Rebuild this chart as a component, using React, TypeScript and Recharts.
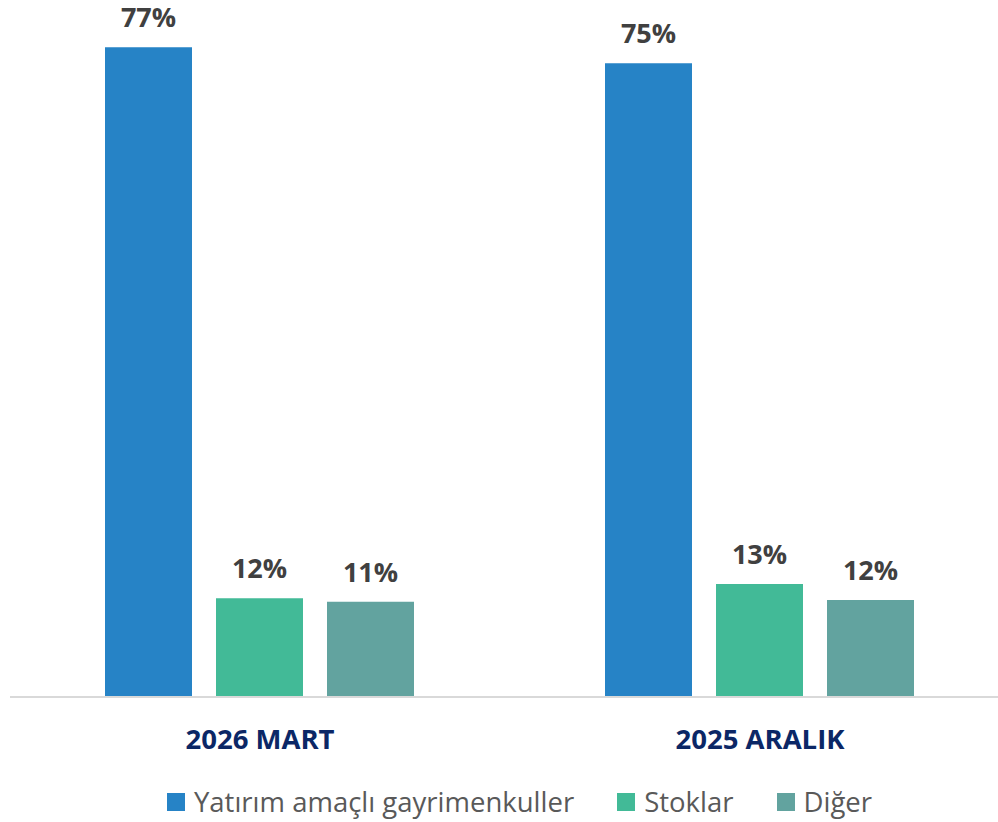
import { Bar, BarChart, LabelList, Legend, XAxis, YAxis } from "recharts";

const periods = ["2026 MART", "2025 ARALIK"];
const yatirim = [77.0, 75.1];
const stoklar = [11.7, 13.4];
const diger = [11.3, 11.5];
const yatirimLabels = ["77%", "75%"];
const stoklarLabels = ["12%", "13%"];
const digerLabels = ["11%", "12%"];

const series = [
  { key: "yatirim", label: "labelYatirim", name: "Yatırım amaçlı gayrimenkuller", color: "#2683C6" },
  { key: "stoklar", label: "labelStoklar", name: "Stoklar", color: "#42BA97" },
  { key: "diger", label: "labelDiger", name: "Diğer", color: "#62A39F" }
];

const data = periods.map((period, i) => ({
  period,
  yatirim: yatirim[i],
  stoklar: stoklar[i],
  diger: diger[i],
  labelYatirim: yatirimLabels[i],
  labelStoklar: stoklarLabels[i],
  labelDiger: digerLabels[i]
}));

const FONT = "'Open Sans', sans-serif";

function LegendContent() {
  return (
    <div
      style={{
        height: 55,
        display: "flex",
        justifyContent: "center",
        alignItems: "center",
        paddingTop: 14,
        paddingLeft: 19,
        boxSizing: "border-box",
        fontFamily: FONT,
        fontSize: 27.5,
        color: "#595959"
      }}
    >
      {series.map((s) => (
        <div key={s.key} style={{ display: "flex", alignItems: "center", margin: "0 21.5px" }}>
          <span style={{ width: 18, height: 18, background: s.color, marginRight: 9, display: "inline-block" }} />
          <span>{s.name}</span>
        </div>
      ))}
    </div>
  );
}

export default function App() {
  return (
    <div style={{ position: "absolute", top: 0, left: 0, width: 998, height: 822, overflow: "hidden" }}>
      <BarChart
        width={1010}
        height={822}
        data={data}
        margin={{ top: 22, right: 0, left: 10, bottom: 0 }}
        barCategoryGap={95}
        barGap={24}
      >
        <XAxis
          dataKey="period"
          axisLine={{ stroke: "#D9D9D9", strokeWidth: 2 }}
          tickLine={false}
          height={70}
          tickMargin={26}
          tick={{ fontFamily: FONT, fontSize: 27.5, fontWeight: 700, fill: "#0B2766" }}
        />
        <YAxis hide domain={[0, 80]} />
        <Legend verticalAlign="bottom" content={<LegendContent />} />
        {series.map((s) => (
          <Bar key={s.key} dataKey={s.key} name={s.name} fill={s.color} isAnimationActive={false}>
            <LabelList
              dataKey={s.label}
              position="top"
              offset={20}
              style={{ fontFamily: FONT, fontSize: 27, fontWeight: 700, fill: "#404040" }}
            />
          </Bar>
        ))}
      </BarChart>
    </div>
  );
}
